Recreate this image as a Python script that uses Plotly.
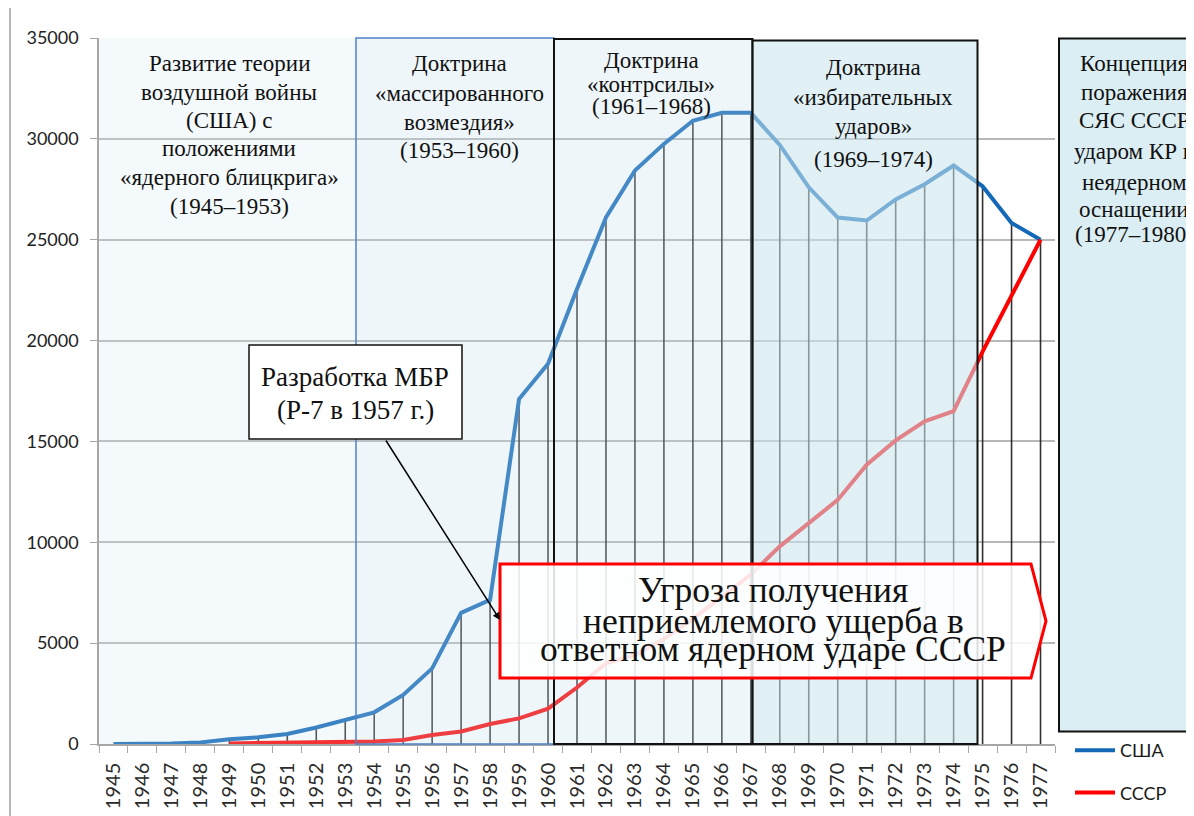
import plotly.graph_objects as go

# ---------------- data ----------------
years = [str(y) for y in range(1945, 1978)]
usa = [0, 10, 20, 80, 230, 330, 500, 820, 1190, 1570, 2430, 3750, 6500, 7150,
       17100, 18850, 22560, 26100, 28430, 29750, 30900, 31290, 31290, 29700,
       27600, 26100, 25950, 27000, 27750, 28680, 27650, 25830, 25000]
ussr = [None, None, None, None, 30, 40, 50, 70, 100, 120, 200, 450, 620, 990,
        1270, 1750, 2800, 4000, 4400, 5200, 6200, 7300, 8400, 9800, 10950,
        12100, 13850, 15050, 16000, 16500, 19450, 22250, 25000]
series_names = ["США", "СССР"]

# ---------------- geometry helpers (page pixel -> paper) ----------------
OFF = 8                      # default page body margin
W, H = 1194 - OFF, 816 - OFF
L, R, T, B = 99, 1055, 38, 744   # plot area in page pixels


def px(x):
    return (x - L) / (R - L)


def py(y):
    return (B - y) / (B - T)


fig = go.Figure()

# drop lines from the highest series value to the axis
dx, dy = [], []
for yr, a, b in zip(years, usa, ussr):
    top = max(v for v in (a, b) if v is not None)
    if top > 0:
        dx += [yr, yr, None]
        dy += [0, top, None]
fig.add_trace(go.Scatter(x=dx, y=dy, mode="lines",
                         line=dict(color="rgba(20,20,20,0.88)", width=1.6),
                         showlegend=False, hoverinfo="skip"))

fig.add_trace(go.Scatter(x=years, y=usa, name=series_names[0], mode="lines",
                         line=dict(color="#1468b8", width=4), legendgroup="a"))
fig.add_trace(go.Scatter(x=years, y=ussr, name=series_names[1], mode="lines",
                         line=dict(color="#ff0000", width=4), legendgroup="b"))

shapes = []
# frame line on the left
shapes.append(dict(type="line", xref="paper", yref="paper", x0=px(10), x1=px(10),
                   y0=py(820), y1=py(0), line=dict(color="#a0a0a0", width=1.5),
                   layer="above"))


def rect(x0, x1, y0, y1, fill, lc=None, lw=0):
    return dict(type="rect", xref="paper", yref="paper", x0=px(x0), x1=px(x1),
                y0=py(y1), y1=py(y0), fillcolor=fill,
                line=dict(color=lc or "rgba(0,0,0,0)", width=lw), layer="above")


shapes.append(rect(99, 356, 38, 744, "rgba(205,228,238,0.22)"))
shapes.append(rect(356, 554, 38, 744, "rgba(195,222,234,0.28)", "#4f81c7", 1.5))
shapes.append(rect(554, 752.5, 39, 744, "rgba(195,222,234,0.28)", "#111111", 2))
shapes.append(rect(752.5, 977.5, 40.5, 744, "rgba(200,228,238,0.57)", "#111111", 2))
shapes.append(rect(1059, 1210, 38.5, 731.5, "#dbeef3", "#111111", 2))

# ICBM callout box
shapes.append(rect(249, 462, 345, 439, "#ffffff", "#111111", 1.5))

# threat pentagon callout
path = "M {a},{b} L {c},{b} L {d},{e} L {c},{f} L {a},{f} Z".format(
    a=px(500), b=py(564), c=px(1031), d=px(1046), e=py(621), f=py(678))
shapes.append(dict(type="path", xref="paper", yref="paper", path=path,
                   fillcolor="rgba(255,255,255,0.86)",
                   line=dict(color="#ff0000", width=3), layer="above"))

annotations = []


def add_lines(lines, cx, ys, size):
    for t, y in zip(lines, ys):
        annotations.append(dict(text=t, x=px(cx), y=py(y), xref="paper", yref="paper",
                                showarrow=False, xanchor="center", yanchor="middle",
                                font=dict(family="Liberation Serif", size=size, color="#111111")))


add_lines(["Развитие теории", "воздушной войны", "(США) с", "положениями",
           "«ядерного блицкрига»", "(1945–1953)"],
          229, [63, 92, 120, 148, 178, 207], 23)
add_lines(["Доктрина", "«массированного", "возмездия»", "(1953–1960)"],
          459, [63, 93, 122, 150], 23)
add_lines(["Доктрина", "«контрсилы»", "(1961–1968)"],
          651, [60, 84, 106], 23)
add_lines(["Доктрина", "«избирательных", "ударов»", "(1969–1974)"],
          873, [67, 98, 127, 159], 23)
add_lines(["Концепция", "поражения", "СЯС СССР", "ударом КР в", "неядерном",
           "оснащении", "(1977–1980)"],
          1134, [63, 92, 120, 151, 182, 210, 234], 23)
add_lines(["Разработка МБР", "(Р-7 в 1957 г.)"], 355, [377, 410], 27)
add_lines(["Угроза получения", "неприемлемого ущерба в", "ответном ядерном ударе СССР"],
          773, [590, 621, 649], 35.5)

# arrow from the ICBM box
annotations.append(dict(text="", x=px(500), y=py(620), xref="paper", yref="paper",
                        showarrow=True, ax=-115, ay=-181, arrowhead=2, arrowsize=1,
                        arrowwidth=1.5, arrowcolor="#000000"))

fig.update_layout(
    width=W, height=H,
    margin=dict(l=L - OFF, r=1194 - R, t=T - OFF, b=816 - B, pad=0, autoexpand=False),
    paper_bgcolor="#ffffff", plot_bgcolor="#ffffff",
    shapes=shapes, annotations=annotations,
    showlegend=True,
    legend=dict(x=px(1070), y=py(732), xanchor="left", yanchor="top",
                font=dict(family="Lato", size=18, color="#1a1a1a"),
                bgcolor="rgba(0,0,0,0)", tracegroupgap=16, itemwidth=40),
    xaxis=dict(type="category", categoryorder="array", categoryarray=years,
               range=[-0.5, 32.5], tickson="boundaries", ticks="outside", ticklen=7,
               tickcolor="#a6a6a6", showline=True, linecolor="#a6a6a6", linewidth=1.5,
               tickangle=-90, showgrid=False, automargin=False, ticklabelstandoff=9,
               tickfont=dict(family="Lato", size=20, color="#2a2a2a")),
    yaxis=dict(range=[0, 35000], dtick=5000, tickformat="d", showgrid=True,
               gridcolor="#b8b8b8", gridwidth=1.5, zeroline=False, showline=True,
               linecolor="#a6a6a6", linewidth=1.5, ticks="outside", ticklen=7,
               tickcolor="#a6a6a6", ticklabelstandoff=8, automargin=False,
               tickfont=dict(family="Lato", size=18, color="#222222")),
)

fig.write_html("out.html")
